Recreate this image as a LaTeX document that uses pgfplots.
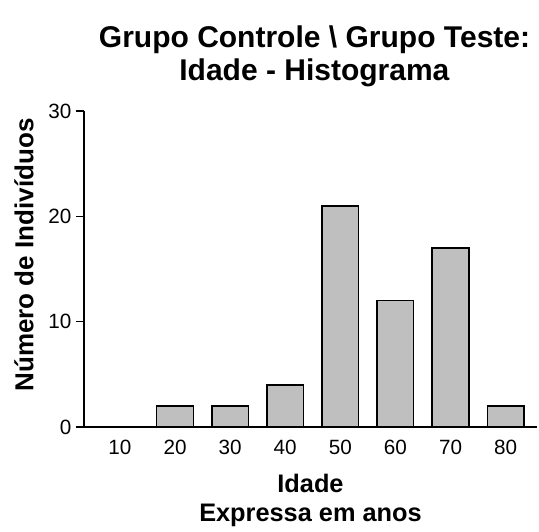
\documentclass[border=0pt]{standalone}
\usepackage{pgfplots}
\pgfplotsset{compat=1.18}
\usepackage{fontspec}
\setmainfont{Liberation Sans}
\begin{document}
\begin{tikzpicture}
\begin{axis}[
  name=ax,
  scale only axis,
  width=339.75pt, height=237pt,
  xmin=3.47, xmax=85.7, ymin=0, ymax=30,
  axis x line=bottom, axis y line=left,
  axis line style={-, line width=1.2pt},
  xtick={10,20,30,40,50,60,70,80},
  x tick style={draw=none},
  ytick={0,10,20,30},
  y tick style={line width=1.2pt, black},
  tick align=outside,
  major tick length=6pt,
  tick label style={font=\fontsize{15.5}{18}\selectfont},
  /pgf/number format/assume math mode=true,
  xlabel={\textbf{Idade}\\\textbf{Expressa em anos}},
  every axis x label/.style={at={([yshift=-55pt]axis description cs:0.5,0)}, anchor=center, align=center, font=\fontsize{19}{22}\selectfont},
  ylabel={\textbf{Número de Indivíduos}},
  every axis y label/.style={at={([xshift=-45pt,yshift=10.5pt]axis description cs:0,0.5)}, anchor=center, rotate=90, font=\fontsize{19.5}{22}\selectfont},
  title={\textbf{Grupo Controle \textbackslash\ Grupo Teste:}\\\textbf{Idade - Histograma}},
  every axis title/.style={at={([xshift=3pt,yshift=41.25pt]axis description cs:0.5,1)}, anchor=center, align=center, font=\fontsize{22.5}{24.5}\selectfont},
  ybar, bar width=6.66,
  clip=false,
]
\addplot[fill=black!25, draw=black, line width=1.1pt] coordinates {
(10,0) (20,2) (30,2) (40,4) (50,21) (60,12) (70,17) (80,2)};
\end{axis}
\path[use as bounding box] ([shift={(-63pt,-73.5pt)}]ax.south west) rectangle ([shift={(1.5pt,83.25pt)}]ax.north east);
\end{tikzpicture}
\end{document}
